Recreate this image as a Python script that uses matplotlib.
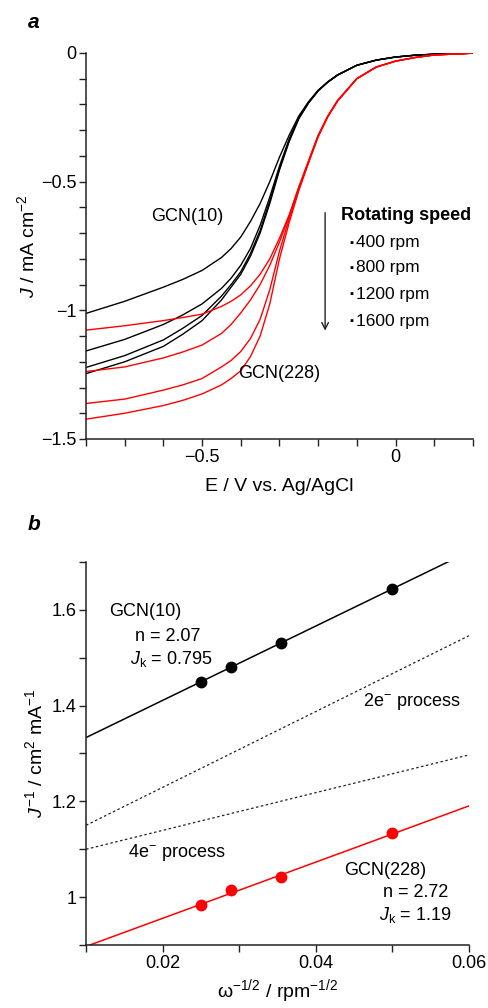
import matplotlib
matplotlib.use('Agg')
import matplotlib.pyplot as plt
from matplotlib.ticker import MultipleLocator, FixedLocator
import numpy as np

plt.rcParams['font.family'] = ['Liberation Sans', 'DejaVu Sans']
plt.rcParams['mathtext.fontset'] = 'custom'
plt.rcParams['mathtext.rm'] = 'Liberation Sans'
plt.rcParams['mathtext.it'] = 'Liberation Sans:italic'
plt.rcParams['mathtext.bf'] = 'Liberation Sans:bold'

# ---- panel a: LSV curves ----
E = [-0.8, -0.7, -0.6, -0.55, -0.5, -0.45, -0.425, -0.4, -0.375, -0.35, -0.325, -0.3,
     -0.275, -0.25, -0.225, -0.2, -0.175, -0.15, -0.1, -0.05, 0.0, 0.05, 0.1, 0.2]

tail_b = [-0.048, -0.028, -0.016, -0.009, -0.005, -0.001]
tail_r = [-0.100, -0.055, -0.032, -0.018, -0.008, -0.001]

J_gcn10 = {
    '400':  [-1.012, -0.965, -0.910, -0.880, -0.845, -0.795, -0.760, -0.715, -0.655, -0.585, -0.500, -0.405,
             -0.320, -0.245, -0.190, -0.145, -0.112, -0.085] + tail_b,
    '800':  [-1.158, -1.113, -1.055, -1.018, -0.975, -0.915, -0.875, -0.825, -0.760, -0.670, -0.560, -0.440,
             -0.335, -0.250, -0.192, -0.146, -0.113, -0.086] + tail_b,
    '1200': [-1.222, -1.176, -1.115, -1.070, -1.020, -0.945, -0.900, -0.850, -0.780, -0.690, -0.575, -0.450,
             -0.340, -0.253, -0.194, -0.147, -0.113, -0.086] + tail_b,
    '1600': [-1.246, -1.200, -1.140, -1.093, -1.040, -0.960, -0.910, -0.860, -0.790, -0.700, -0.585, -0.455,
             -0.345, -0.256, -0.195, -0.148, -0.114, -0.087] + tail_b,
}
J_gcn228 = {
    '400':  [-1.077, -1.060, -1.040, -1.028, -1.015, -0.985, -0.965, -0.940, -0.905, -0.860, -0.800, -0.720,
             -0.630, -0.520, -0.420, -0.320, -0.245, -0.185] + tail_r,
    '800':  [-1.238, -1.220, -1.185, -1.162, -1.135, -1.090, -1.055, -1.010, -0.960, -0.900, -0.825, -0.735,
             -0.635, -0.525, -0.422, -0.322, -0.246, -0.186] + tail_r,
    '1200': [-1.362, -1.345, -1.310, -1.290, -1.265, -1.220, -1.195, -1.160, -1.110, -1.035, -0.920, -0.770,
             -0.645, -0.530, -0.425, -0.324, -0.247, -0.187] + tail_r,
    '1600': [-1.423, -1.400, -1.370, -1.350, -1.325, -1.290, -1.265, -1.235, -1.180, -1.100, -0.975, -0.800,
             -0.660, -0.535, -0.428, -0.326, -0.248, -0.188] + tail_r,
}
speeds = ['400', '800', '1200', '1600']

# ---- panel b: Koutecky-Levich ----
omega_inv = [0.025, 0.0289, 0.0354, 0.05]
Jinv_gcn10 = [1.45, 1.48, 1.53, 1.644]
Jinv_gcn228 = [0.983, 1.014, 1.041, 1.133]
x_ref = [0.01, 0.06]
y_2e = [1.15, 1.546]
y_4e = [1.10, 1.297]

fig = plt.figure(figsize=(4.89, 10.08), dpi=100)
ax1 = fig.add_axes([0.176, 0.5645, 0.791, 0.383])
ax2 = fig.add_axes([0.176, 0.0625, 0.783, 0.380])

spine_c = '#222222'
for ax in (ax1, ax2):
    for s in ('top', 'right'):
        ax.spines[s].set_visible(False)
    for s in ('left', 'bottom'):
        ax.spines[s].set_linewidth(1.1)
        ax.spines[s].set_color(spine_c)
    ax.tick_params(which='both', direction='out', length=5, width=1.0,
                   color=spine_c, labelsize=13, pad=2)

for s in speeds:
    ax1.plot(E, J_gcn10[s], color='black', lw=1.0)
for s in speeds:
    ax1.plot(E, J_gcn228[s], color='#ff0000', lw=1.0)

ax1.set_xlim(-0.8, 0.2)
ax1.set_ylim(-1.5, 0)
ax1.xaxis.set_major_locator(FixedLocator([-0.5, 0]))
ax1.xaxis.set_minor_locator(MultipleLocator(0.1))
ax1.set_xticklabels(['\u22120.5', '0'])
ax1.set_yticks([-1.5, -1, -0.5, 0])
ax1.yaxis.set_minor_locator(MultipleLocator(0.1))
ax1.set_yticklabels(['\u22121.5', '\u22121', '\u22120.5', '0'])
ax1.set_xlabel('E / V vs. Ag/AgCl', fontsize=14, labelpad=9)
ax1.set_ylabel(r'$J$ / mA cm$^{-2}$', fontsize=14, labelpad=2)

ax1.text(-0.539, -0.637, 'GCN(10)', fontsize=13, ha='center', va='center')
ax1.text(-0.301, -1.244, 'GCN(228)', fontsize=13, ha='center', va='center')
ax1.annotate('', xy=(-0.182, -1.09), xytext=(-0.182, -0.61),
             arrowprops=dict(arrowstyle='->', color='#222222', lw=1.0,
                             mutation_scale=12))
ax1.text(-0.142, -0.63, 'Rotating speed', fontsize=13, fontweight='bold',
         ha='left', va='center')
leg_y = [-0.737, -0.834, -0.938, -1.042]
for yy, s in zip(leg_y, speeds):
    ax1.text(-0.1134, yy, '\u25aa', fontsize=8, ha='center', va='center')
    ax1.text(-0.102, yy, s + ' rpm', fontsize=12.5, ha='left', va='center')

# panel b
for yv, col in ((Jinv_gcn10, 'black'), (Jinv_gcn228, '#ff0000')):
    k, b = np.polyfit(omega_inv, yv, 1)
    xs = np.array(x_ref)
    ax2.plot(xs, k * xs + b, color=col, lw=1.1)
    ax2.plot(omega_inv, yv, 'o', color=col, ms=7.5, mec=col)
ax2.plot(x_ref, y_2e, color='#222222', lw=0.9, linestyle=(0, (2, 2)))
ax2.plot(x_ref, y_4e, color='#222222', lw=0.9, linestyle=(0, (2, 2)))

ax2.set_xlim(0.01, 0.06)
ax2.set_ylim(0.9, 1.7)
ax2.xaxis.set_major_locator(FixedLocator([0.02, 0.04, 0.06]))
ax2.xaxis.set_minor_locator(MultipleLocator(0.01))
ax2.set_xticklabels(['0.02', '0.04', '0.06'])
ax2.yaxis.set_major_locator(FixedLocator([1.0, 1.2, 1.4, 1.6]))
ax2.yaxis.set_minor_locator(MultipleLocator(0.1))
ax2.set_yticklabels(['1', '1.2', '1.4', '1.6'])
ax2.set_xlabel(r'ω$^{-1/2}$ / rpm$^{-1/2}$', fontsize=14, labelpad=4)
ax2.set_ylabel(r'$J^{-1}$ / cm$^{2}$ mA$^{-1}$', fontsize=14, labelpad=4)

ax2.text(0.0130, 1.596, 'GCN(10)', fontsize=13, ha='left', va='center')
ax2.text(0.0164, 1.544, 'n = 2.07', fontsize=13, ha='left', va='center')
ax2.text(0.0157, 1.497, r'$J_{\mathrm{k}}$ = 0.795', fontsize=13, ha='left', va='center')
ax2.text(0.0462, 1.408, '2e$^{-}$ process', fontsize=13, ha='left', va='center')
ax2.text(0.0155, 1.094, '4e$^{-}$ process', fontsize=13, ha='left', va='center')
ax2.text(0.0437, 1.055, 'GCN(228)', fontsize=13, ha='left', va='center')
ax2.text(0.0488, 1.009, 'n = 2.72', fontsize=13, ha='left', va='center')
ax2.text(0.0482, 0.962, r'$J_{\mathrm{k}}$ = 1.19', fontsize=13, ha='left', va='center')

fig.text(28 / 489, 1 - 22 / 1008, 'a', fontsize=15, fontweight='bold',
         style='italic', ha='left', va='center')
fig.text(28 / 489, 1 - 525 / 1008, 'b', fontsize=15, fontweight='bold',
         style='italic', ha='left', va='center')

fig.savefig('out.png', dpi=100)
